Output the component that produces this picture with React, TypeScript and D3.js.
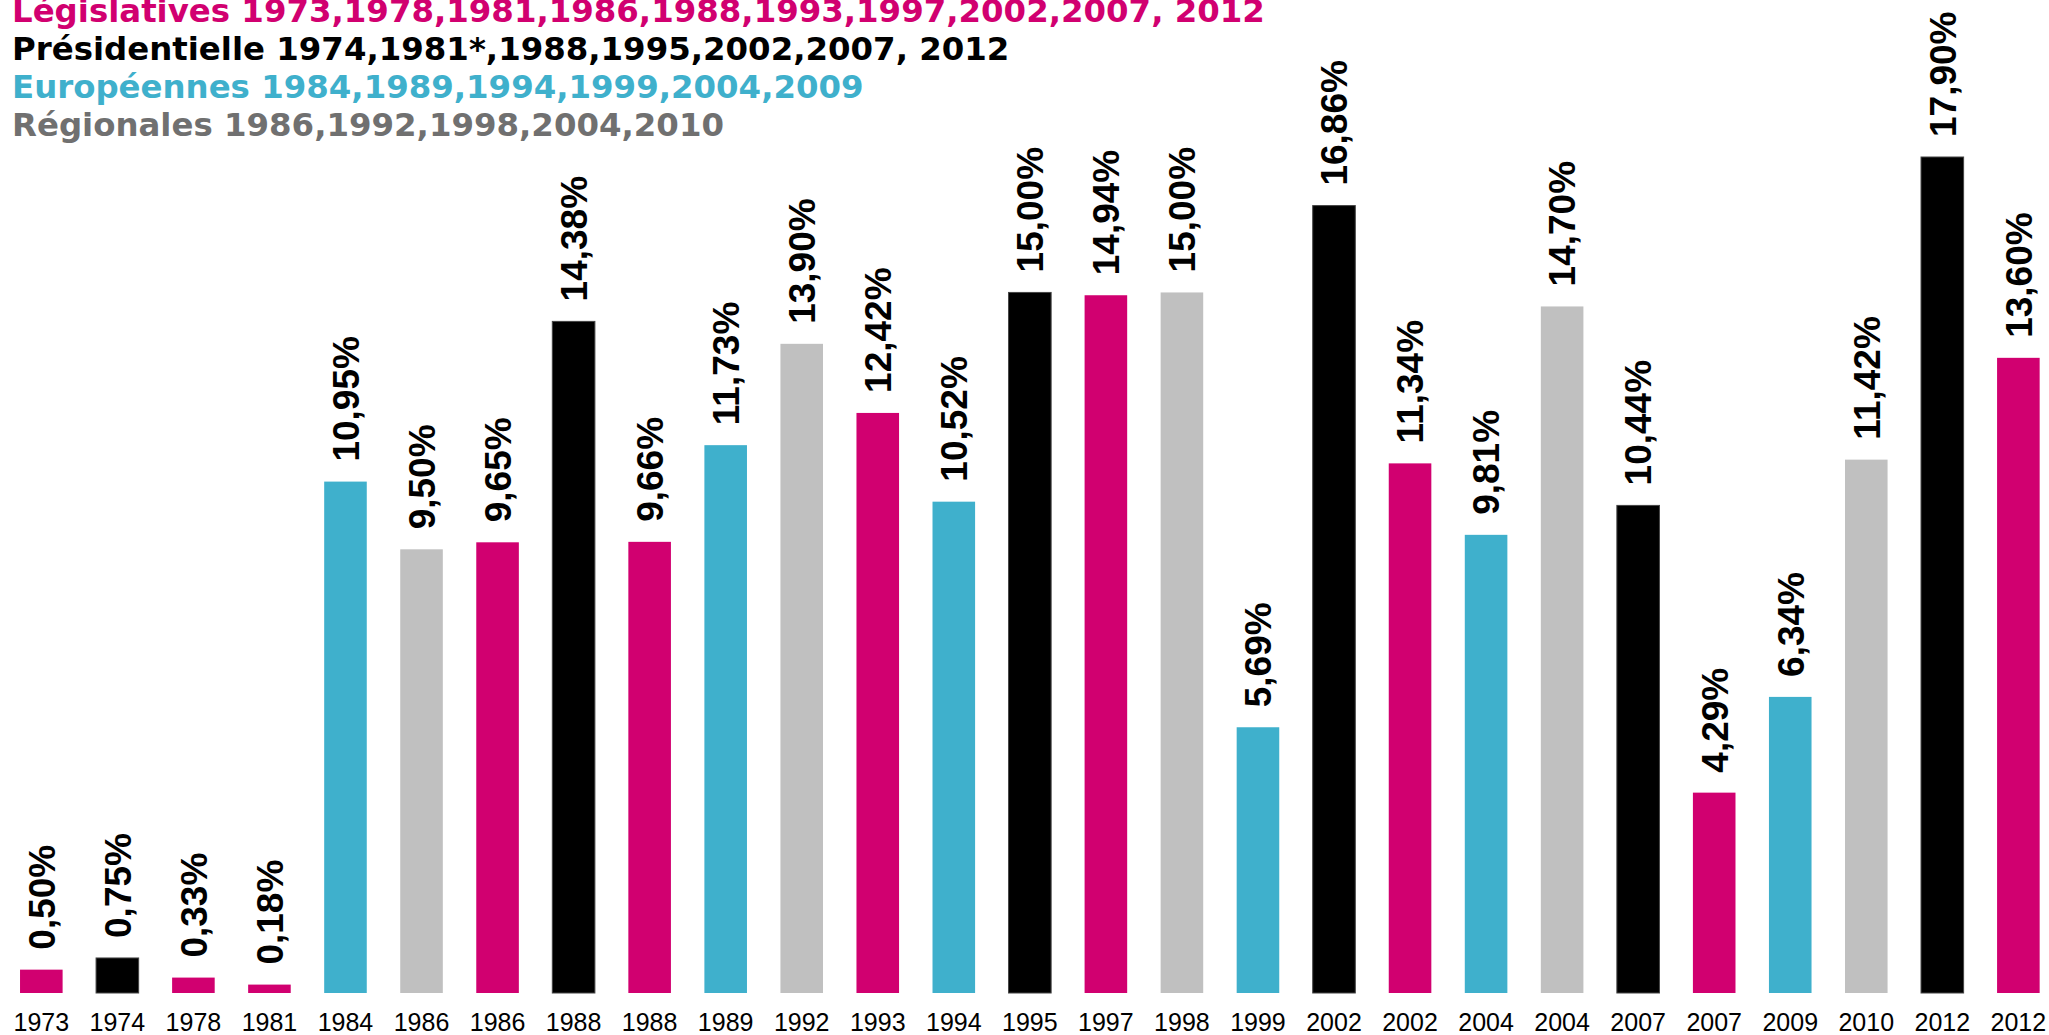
import React, { useEffect, useRef } from 'react';
import * as d3 from 'd3';

// 年份（横轴标签）
const years: string[] = [
  '1973', '1974', '1978', '1981', '1984', '1986', '1986', '1988', '1988',
  '1989', '1992', '1993', '1994', '1995', '1997', '1998', '1999', '2002',
  '2002', '2004', '2004', '2007', '2007', '2009', '2010', '2012', '2012'
];

// 选举类型: L = législatives, P = présidentielle, E = européennes, R = régionales
const kinds: string[] = [
  'L', 'P', 'L', 'L', 'E', 'R', 'L', 'P', 'L',
  'E', 'R', 'L', 'E', 'P', 'L', 'R', 'E', 'P',
  'L', 'E', 'R', 'P', 'L', 'E', 'R', 'P', 'L'
];

// 得票率 (%)
const values: number[] = [
  0.50, 0.75, 0.33, 0.18, 10.95, 9.50, 9.65, 14.38, 9.66,
  11.73, 13.90, 12.42, 10.52, 15.00, 14.94, 15.00, 5.69, 16.86,
  11.34, 9.81, 14.70, 10.44, 4.29, 6.34, 11.42, 17.90, 13.60
];

const legendLines: { kind: string; text: string }[] = [
  { kind: 'L', text: 'Législatives 1973,1978,1981,1986,1988,1993,1997,2002,2007, 2012' },
  { kind: 'P', text: 'Présidentielle 1974,1981*,1988,1995,2002,2007, 2012' },
  { kind: 'E', text: 'Européennes 1984,1989,1994,1999,2004,2009' },
  { kind: 'R', text: 'Régionales 1986,1992,1998,2004,2010' }
];

const barColor: Record<string, string> = {
  L: '#d10070',
  P: '#000000',
  E: '#3fb0cc',
  R: '#c0c0c0'
};

const legendColor: Record<string, string> = {
  L: '#d10070',
  P: '#000000',
  E: '#3fb0cc',
  R: '#707070'
};

const fmt = (v: number) => v.toFixed(2).replace('.', ',') + '%';

const App: React.FC = () => {
  const width = 2049;
  const height = 1035;
  const svgRef = useRef<SVGSVGElement>(null);

  useEffect(() => {
    if (!svgRef.current) return;
    const svg = d3.select(svgRef.current);
    svg.selectAll('*').remove();

    const idx = values.map((_, i) => i);

    const x = d3.scaleBand<number>()
      .domain(idx)
      .range([3.3, 3.3 + 27 * 76.04])
      .paddingInner(0.44)
      .paddingOuter(0.22);

    const y = d3.scaleLinear()
      .domain([0, 17.9])
      .range([993, 157]);

    // 柱子
    svg.append('g')
      .selectAll('rect')
      .data(idx)
      .enter()
      .append('rect')
      .attr('x', i => x(i)!)
      .attr('y', i => y(values[i]))
      .attr('width', x.bandwidth())
      .attr('height', i => y(0) - y(values[i]))
      .attr('fill', i => barColor[kinds[i]])
      .attr('stroke', i => (kinds[i] === 'P' ? '#444' : 'none'))
      .attr('stroke-width', 1);

    // 数值标签
    svg.append('g')
      .selectAll('text')
      .data(idx)
      .enter()
      .append('text')
      .attr('transform', i => `translate(${x(i)! + x.bandwidth() / 2}, ${y(values[i]) - 20}) rotate(-90)`)
      .attr('dy', '0.36em')
      .attr('text-anchor', 'start')
      .attr('font-family', 'Liberation Sans, Arial, sans-serif')
      .attr('font-weight', 'bold')
      .attr('font-size', 37)
      .attr('fill', '#000')
      .text(i => fmt(values[i]));

    // 横轴年份
    svg.append('g')
      .selectAll('text')
      .data(idx)
      .enter()
      .append('text')
      .attr('x', i => x(i)! + x.bandwidth() / 2)
      .attr('y', 1031)
      .attr('text-anchor', 'middle')
      .attr('font-family', 'Liberation Sans, Arial, sans-serif')
      .attr('font-size', 25)
      .attr('fill', '#000')
      .text(i => years[i]);

    // 图例
    svg.append('g')
      .selectAll('text')
      .data(legendLines)
      .enter()
      .append('text')
      .attr('x', 12)
      .attr('y', (_, i) => 22 + i * 38)
      .attr('font-family', 'DejaVu Sans, Verdana, sans-serif')
      .attr('font-weight', 'bold')
      .attr('font-size', 32.4)
      .attr('fill', d => legendColor[d.kind])
      .text(d => d.text);
  }, []);

  return (
    <svg
      ref={svgRef}
      width={width}
      height={height}
      style={{ position: 'absolute', left: 0, top: 0, background: '#fff' }}
    />
  );
};

export default App;
